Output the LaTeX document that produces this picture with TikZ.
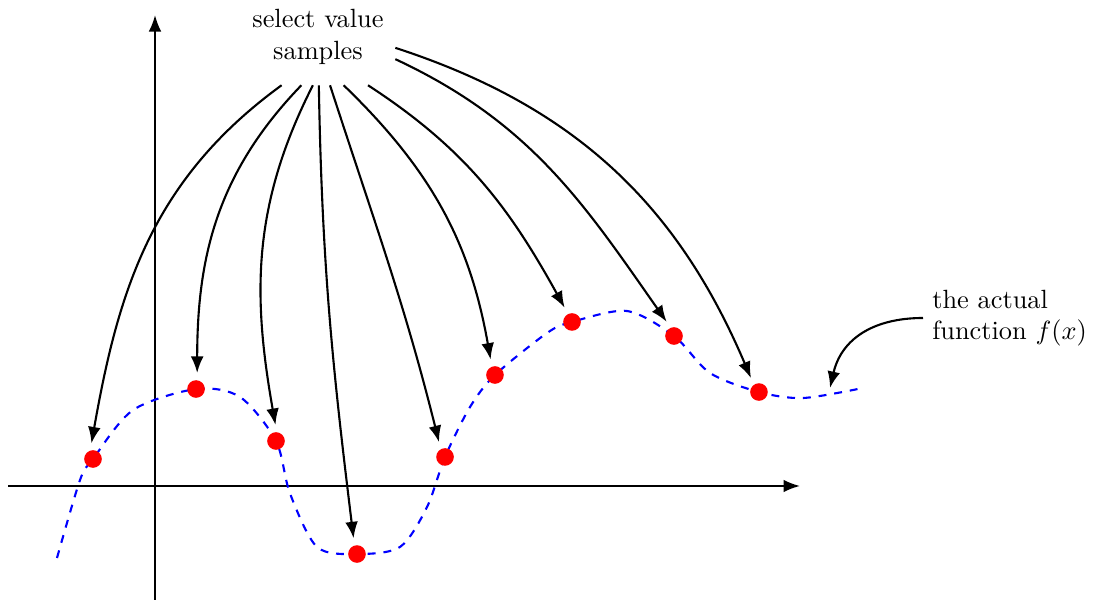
\documentclass[tikz,border=0pt]{standalone}
\usepackage{amsmath,amssymb}
\usepackage{xcolor}
\usepackage{tikz}
\usetikzlibrary{arrows.meta,positioning}

\begin{document}
\begin{tikzpicture}[scale=1,
  sample/.style={circle, fill=red, inner sep=0pt, minimum size=0.235cm},
  pick/.style={thick, -{Latex[length=0.22cm,width=0.17cm]}, shorten >=0.09cm},
  axis/.style={thick, -{Latex[length=0.22cm,width=0.17cm]}}]
\useasboundingbox (-2.067,-1.547) rectangle (12.547,6.48);
% axes
\draw[axis] (-1.96,0) -- (8.6,0);
\draw[axis] (0,-1.52) -- (0,6.28);
% the function
\draw[thick, blue, dashed] plot[smooth] coordinates {(-1.307,-0.96) (-1.0,0.08) (-0.827,0.36) (-0.293,1.013) (0.547,1.293) (1.133,1.187) (1.613,0.6) (1.8,-0.1) (2.16,-0.813) (2.693,-0.907) (3.267,-0.813) (3.627,-0.28) (3.867,0.387) (4.2,1.053) (4.533,1.48) (5.227,2.04) (5.56,2.187) (6.293,2.333) (6.92,2.0) (7.4,1.507) (8.053,1.253) (8.64,1.173) (9.44,1.307)};
% samples
\foreach \i/\p in {1/{(-0.827,0.36)}, 2/{(0.547,1.293)}, 3/{(1.613,0.6)},
                   4/{(2.693,-0.907)}, 5/{(3.867,0.387)}, 6/{(4.533,1.48)},
                   7/{(5.56,2.187)}, 8/{(6.92,2.0)}, 9/{(8.053,1.253)}}
  \node[sample] (s\i) at \p {};
\node[align=center, inner xsep=0.15cm, inner ysep=0.27cm] (pick) at (2.173,5.987) {select value\\samples};
\foreach \i/\a/\o/\n/\t in {1/233/216/80/107, 2/251/226/90/83, 3/264/243/100/86,
                            4/271/271/97/106, 5/284/288/104/118, 6/298/316/100/110,
                            7/316/327/119/116, 8/344/335/125/112, 9/352/342/113/125}
  \draw[pick] (pick.\a) to[out=\o, in=\n] (s\i.\t);
% label of the curve
\node[align=left, anchor=west] (fn) at (10.24,2.24) {the actual\\function $f(x)$};
\coordinate (fx) at (9.0,1.307);
\draw[axis] (fn.west) to[out=180, in=77, looseness=1.1] (fx);
\end{tikzpicture}
\end{document}
